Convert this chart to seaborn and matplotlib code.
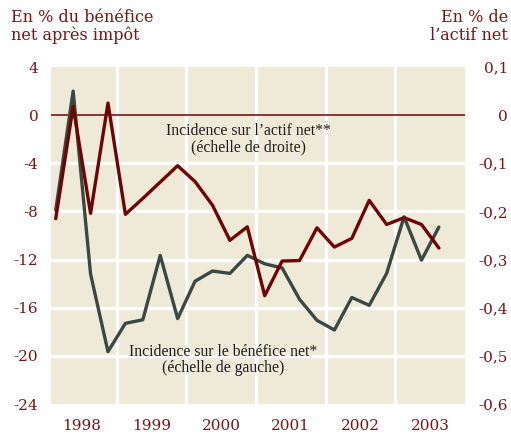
import pandas as pd
import seaborn as sns
import matplotlib.pyplot as plt

# Quarterly data (left scale: % of net profit, right scale: % of net assets)
periodes = ['1998T1', '1998T2', '1998T3', '1998T4',
            '1999T1', '1999T2', '1999T3', '1999T4',
            '2000T1', '2000T2', '2000T3', '2000T4',
            '2001T1', '2001T2', '2001T3', '2001T4',
            '2002T1', '2002T2', '2002T3', '2002T4',
            '2003T1', '2003T2', '2003T3']
benefice_net = [-7.9, 2.0, -13.2, -19.65, -17.3, -17.0, -11.65, -16.9,
                -13.8, -12.95, -13.15, -11.65, -12.35, -12.7, -15.3, -17.05,
                -17.85, -15.15, -15.8, -13.15, -8.45, -12.05, -9.3]
actif_net = [-0.215, 0.018, -0.204, 0.025, -0.206, -0.173, -0.139, -0.105,
             -0.138, -0.187, -0.260, -0.232, -0.375, -0.303, -0.302, -0.234,
             -0.274, -0.256, -0.177, -0.227, -0.213, -0.227, -0.276]

ticks_gauche = [4, 0, -4, -8, -12, -16, -20, -24]
grille_gauche = [-4, -8, -12, -16, -20]
ticks_droite = [0.1, 0, -0.1, -0.2, -0.3, -0.4, -0.5, -0.6]
labels_droite = ['0,1', '0', '-0,1', '-0,2', '-0,3', '-0,4', '-0,5', '-0,6']
annees = [1998, 1999, 2000, 2001, 2002, 2003]

df = pd.DataFrame({'periode': periodes, 'benefice': benefice_net, 'actif': actif_net})
df['x'] = df['periode'].str[:4].astype(int) + (df['periode'].str[-1].astype(int) - 0.5) / 4

fond = '#efe9d8'
rouge = '#6e0505'
gris = '#3a4844'
texte = '#7a1414'

sns.set_style('white')
plt.rcParams['font.family'] = ['DejaVu Serif']

fig = plt.figure(figsize=(5.11, 4.34), dpi=100)
ax = fig.add_axes([0.0998, 0.0691, 0.8102, 0.7765])
ax.set_facecolor(fond)

# grid: white separators between years, white lines on left ticks
ax.set_xticks([a + 0.5 for a in annees])
ax.set_xticklabels([str(a) for a in annees])
ax.set_xticks(annees[1:], minor=True)
ax.set_yticks(ticks_gauche)
ax.set_yticklabels([str(t) for t in ticks_gauche])
ax.yaxis.remove_overlapping_locs = False
ax.set_yticks(grille_gauche, minor=True)
ax.grid(False)
ax.grid(True, which='minor', color='white', lw=2.4)
ax.axhline(0, color=rouge, lw=1.1, zorder=2)

sns.lineplot(data=df, x='x', y='benefice', ax=ax, color=gris, lw=2.4, zorder=3)
ax.set_xlim(1998.057, 2004)
ax.set_ylim(-24, 4)
ax.set_xlabel('')
ax.set_ylabel('')

ax2 = ax.twinx()
sns.lineplot(data=df, x='x', y='actif', ax=ax2, color=rouge, lw=2.4)
ax2.set_ylim(-0.6, 0.1)
ax2.set_yticks(ticks_droite)
ax2.set_yticklabels(labels_droite)
ax2.set_ylabel('')
ax2.grid(False)

for a in (ax, ax2):
    for s in a.spines.values():
        s.set_visible(False)
ax.tick_params(axis='both', which='both', length=0, labelsize=11, colors=texte)
ax.tick_params(axis='x', pad=11)
ax.tick_params(axis='y', pad=9)
ax2.tick_params(axis='y', length=0, labelsize=11, colors=texte, pad=31)
for lab in ax2.get_yticklabels():
    lab.set_horizontalalignment('right')

ax.text(0.476, 0.785, 'Incidence sur l\u2019actif net**\n(échelle de droite)',
        transform=ax.transAxes, ha='center', va='center', fontsize=11.3,
        family='Liberation Serif', color='#1e1e1e', linespacing=1.0, zorder=5)
ax.text(0.415, 0.13, 'Incidence sur le bénéfice net*\n(échelle de gauche)',
        transform=ax.transAxes, ha='center', va='center', fontsize=11.3,
        family='Liberation Serif', color='#1e1e1e', linespacing=1.0, zorder=5)

fig.text(11 / 511, 1 - 9 / 434, 'En % du bénéfice\nnet après impôt', ha='left', va='top',
         fontsize=11.5, color=texte, linespacing=1.05)
fig.text(508 / 511, 1 - 9 / 434, 'En % de\nl\u2019actif net', ha='right', va='top',
         fontsize=11.5, color=texte, linespacing=1.05)

fig.savefig('out.png', dpi=100, facecolor='white')
